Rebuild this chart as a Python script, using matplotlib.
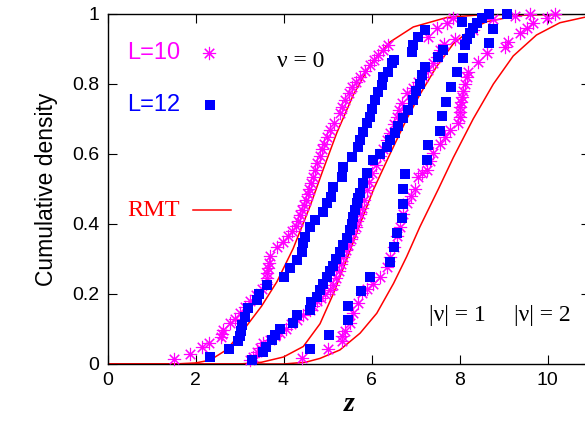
import matplotlib
matplotlib.use('Agg')
import matplotlib.pyplot as plt

# ── Data ──────────────────────────────────────────────────────────────────────
# L=10 (stars), nu = 0, |nu| = 1, |nu| = 2
nu0_L10_z = [1.50, 1.87, 2.14, 2.31, 2.58, 2.60, 2.62, 2.78, 2.90, 3.01, 3.12, 3.24, 3.38, 3.52,
             3.60, 3.62, 3.63, 3.64, 3.66, 3.70, 3.85, 3.98, 4.11, 4.20, 4.28, 4.33, 4.38, 4.43,
             4.47, 4.50, 4.55, 4.58, 4.62, 4.67, 4.72, 4.76, 4.82, 4.88, 4.92, 4.98, 5.06, 5.15,
             5.28, 5.34, 5.40, 5.48, 5.55, 5.65, 5.74, 5.85, 5.97, 6.06, 6.15, 6.27, 6.38, 7.29,
             7.48, 7.71, 7.86]
nu0_L10_y = [.013, .030, .048, .059, .076, .086, .097, .116, .130, .145, .162, .180, .198, .215,
             .230, .245, .260, .275, .290, .310, .335, .350, .365, .380, .395, .410, .425, .440,
             .455, .470, .485, .500, .516, .535, .555, .573, .595, .615, .630, .650, .669, .690,
             .716, .735, .754, .773, .792, .807, .821, .838, .854, .869, .883, .897, .911, .935,
             .959, .973, .988]

nu1_L10_z = [3.24, 3.30, 3.39, 3.47, 3.54, 3.69, 3.80, 3.92, 4.05, 4.18, 4.30, 4.45, 4.60, 4.68,
             4.75, 4.85, 4.95, 5.06, 5.13, 5.20, 5.25, 5.30, 5.36, 5.42, 5.47, 5.53, 5.59, 5.64,
             5.68, 5.73, 5.78, 5.84, 5.89, 5.95, 6.02, 6.10, 6.19, 6.27, 6.35, 6.42, 6.50, 6.57,
             6.63, 6.69, 6.80, 6.95, 7.06, 7.18, 7.29, 7.40, 7.48, 7.56, 7.65, 7.90, 8.30, 8.77,
             9.26, 9.60]
nu1_L10_y = [.011, .021, .033, .045, .059, .069, .080, .090, .100, .113, .126, .140, .155, .165,
             .180, .190, .200, .212, .225, .245, .265, .285, .307, .325, .340, .358, .373, .392,
             .410, .428, .445, .470, .497, .520, .545, .570, .595, .615, .640, .660, .685, .707,
             .726, .745, .773, .790, .805, .821, .840, .859, .878, .897, .915, .930, .955, .985,
             .995, 1.0]

nu2_L10_z = [4.41, 5.02, 5.32, 5.34, 5.40, 5.51, 5.59, 5.70, 5.78, 5.90, 6.04, 6.19, 6.35, 6.42,
             6.50, 6.58, 6.65, 6.72, 6.80, 6.90, 6.99, 7.06, 7.15, 7.25, 7.32, 7.40, 7.56, 7.68,
             7.78, 7.97, 8.00, 8.01, 8.02, 8.04, 8.05, 8.08, 8.13, 8.16, 8.20, 8.43, 8.62, 9.03,
             9.11, 9.38, 9.53, 9.68, 9.98, 10.17]
nu2_L10_y = [.016, .042, .065, .080, .095, .116, .145, .173, .202, .215, .230, .250, .278, .305,
             .335, .365, .392, .430, .459, .480, .500, .535, .545, .554, .580, .602, .630, .650,
             .669, .690, .705, .720, .735, .750, .764, .780, .800, .820, .835, .864, .888, .907,
             .921, .945, .959, .973, .988, 1.0]

# L=12 (squares)
nu0_L12_z = [2.33, 2.75, 2.97, 3.00, 3.03, 3.05, 3.13, 3.20, 3.39, 3.45, 3.62, 4.00, 4.15, 4.30,
             4.41, 4.45, 4.49, 4.60, 4.72, 4.90, 4.98, 5.09, 5.13, 5.32, 5.36, 5.55, 5.70, 5.74,
             5.81, 5.89, 5.97, 6.00, 6.08, 6.15, 6.23, 6.27, 6.38, 6.46, 6.50, 6.91, 6.95, 7.06,
             7.22, 8.05]
nu0_L12_y = [.021, .043, .066, .080, .095, .111, .135, .159, .183, .200, .226, .250, .273, .297,
             .321, .345, .364, .392, .411, .435, .459, .478, .507, .535, .564, .592, .621, .640,
             .664, .688, .707, .730, .754, .778, .797, .820, .835, .859, .870, .892, .911, .935,
             .954, .978]

nu1_L12_z = [3.28, 3.54, 3.60, 3.73, 3.80, 3.92, 4.22, 4.30, 4.60, 4.62, 4.75, 4.83, 4.90, 4.98,
             5.05, 5.13, 5.20, 5.28, 5.36, 5.45, 5.51, 5.55, 5.59, 5.62, 5.66, 5.70, 5.74, 5.81,
             5.89, 6.04, 6.20, 6.35, 6.42, 6.53, 6.60, 6.72, 6.84, 6.95, 7.00, 7.10, 7.15, 7.22,
             7.52, 7.63, 8.13, 8.16, 8.24, 8.31, 8.39, 8.50, 8.66]
nu1_L12_y = [.011, .035, .050, .069, .083, .100, .116, .140, .154, .178, .192, .211, .230, .250,
             .265, .280, .300, .320, .340, .360, .383, .400, .421, .440, .459, .475, .490, .516,
             .545, .583, .600, .621, .640, .659, .680, .702, .725, .754, .780, .800, .825, .850,
             .878, .897, .911, .930, .945, .959, .973, .988, 1.0]

nu2_L12_z = [4.60, 5.04, 5.47, 5.47, 5.75, 5.97, 6.42, 6.51, 6.57, 6.69, 6.71, 6.72, 6.76, 7.25,
             7.29, 7.56, 7.60, 7.69, 7.80, 7.94, 8.09, 8.66, 8.77, 9.07]
nu2_L12_y = [.042, .083, .125, .167, .208, .250, .292, .333, .375, .417, .458, .500, .542, .583,
             .625, .667, .708, .750, .792, .833, .875, .917, .958, 1.0]

# RMT curves
rmt0_z = [0, 1.5, 2.0, 2.33, 2.7, 3.09, 3.5, 3.85, 4.22, 4.6, 4.9, 5.21, 5.59, 5.97, 6.42,
          6.95, 7.71, 8.5, 11]
rmt0_y = [0, 0, 0.003, 0.011, 0.04, 0.097, 0.165, 0.235, 0.33, 0.45, 0.555, 0.66, 0.77, 0.855,
          0.92, 0.963, 0.99, 0.998, 1.0]
rmt1_z = [0, 3.0, 3.5, 4.0, 4.45, 4.83, 5.13, 5.44, 5.74, 6.05, 6.42, 6.8, 7.1, 7.48, 7.86, 8.3,
          8.62, 9.38, 11]
rmt1_y = [0, 0, 0.005, 0.02, 0.05, 0.115, 0.2, 0.3, 0.4, 0.5, 0.6, 0.7, 0.77, 0.85, 0.915, 0.96,
          0.978, 0.997, 1.0]
rmt2_z = [0, 4.0, 4.5, 4.83, 5.28, 5.74, 6.12, 6.5, 6.8, 7.1, 7.52, 7.86, 8.31, 8.77, 9.22, 9.75,
          10.28, 11]
rmt2_y = [0, 0, 0.005, 0.016, 0.04, 0.088, 0.145, 0.23, 0.307, 0.392, 0.50, 0.59, 0.70, 0.80,
          0.88, 0.94, 0.975, 0.995]

x_ticks = [0, 2, 4, 6, 8, 10]
y_ticks = [0, 0.2, 0.4, 0.6, 0.8, 1.0]
y_tick_labels = ['0', '0.2', '0.4', '0.6', '0.8', '1']

# ── Style ─────────────────────────────────────────────────────────────────────
C_L10 = '#ff00ff'
C_L12 = '#0000ff'
C_RMT = '#ff0000'
SANS = 'Liberation Sans'
SERIF = 'Liberation Serif'
STAR = (8, 2, 0)
STAR_MS, STAR_MEW = 9.5, 0.8
SQ_MS = 7.6

fig = plt.figure(figsize=(5.85, 4.28), dpi=100)
ax = fig.add_axes([107.5 / 585, 64 / 428, 482.5 / 585, 350 / 428])

for zs, ys in [(rmt0_z, rmt0_y), (rmt1_z, rmt1_y), (rmt2_z, rmt2_y)]:
    ax.plot(zs, ys, color=C_RMT, lw=1.1, zorder=2, solid_joinstyle='round')

for zs, ys in [(nu0_L10_z, nu0_L10_y), (nu1_L10_z, nu1_L10_y), (nu2_L10_z, nu2_L10_y)]:
    ax.plot(zs, ys, ls='none', marker=STAR, ms=STAR_MS, mew=STAR_MEW, color=C_L10, zorder=3,
            clip_on=False)

for zs, ys in [(nu0_L12_z, nu0_L12_y), (nu1_L12_z, nu1_L12_y), (nu2_L12_z, nu2_L12_y)]:
    ax.plot(zs, ys, ls='none', marker='s', ms=SQ_MS, mew=0, color=C_L12, zorder=4,
            clip_on=False)

ax.set_xlim(0, 482.5 / 44.0)
ax.set_ylim(0, 1)
ax.set_xticks(x_ticks)
ax.set_xticklabels([str(t) for t in x_ticks])
ax.set_yticks(y_ticks)
ax.set_yticklabels(y_tick_labels)
ax.tick_params(direction='in', length=6.5, width=0.8, top=True, right=True,
               labelsize=14, pad=6)
for lab in ax.get_xticklabels() + ax.get_yticklabels():
    lab.set_fontfamily(SANS)
for spine in ax.spines.values():
    spine.set_linewidth(1.0)

ax.set_ylabel('Cumulative density', fontsize=16.5, family=SANS, labelpad=10)
ax.set_xlabel('z', fontsize=20, family=SERIF, style='italic', weight='bold', labelpad=2)

# key, gnuplot style
tr = ax.transAxes
ax.text(0.041, 0.889, 'L=10', color=C_L10, fontsize=17, family=SANS, va='center', transform=tr)
ax.plot([0.2105], [0.889], marker=STAR, ms=STAR_MS, mew=STAR_MEW, color=C_L10, transform=tr)
ax.text(0.041, 0.740, 'L=12', color=C_L12, fontsize=17, family=SANS, va='center', transform=tr)
ax.plot([0.2126], [0.740], marker='s', ms=SQ_MS, mew=0, color=C_L12, transform=tr)
ax.text(0.041, 0.440, 'RMT', color=C_RMT, fontsize=17.5, family=SERIF, va='center', transform=tr)
ax.plot([0.177, 0.2565], [0.440, 0.440], color=C_RMT, lw=1.1, transform=tr)

ax.text(0.351, 0.863, '\u03bd = 0', fontsize=17, family=SERIF, va='center', transform=tr)
ax.text(0.667, 0.140, '|\u03bd| = 1', fontsize=17, family=SERIF, va='center', transform=tr)
ax.text(0.843, 0.140, '|\u03bd| = 2', fontsize=17, family=SERIF, va='center', transform=tr)

fig.savefig('out.png', dpi=100)
